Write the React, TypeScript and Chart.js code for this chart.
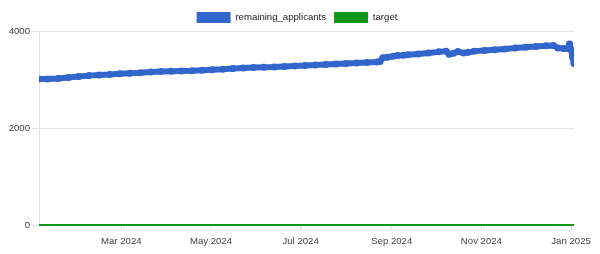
import React, { useEffect, useRef } from "react";
import { Chart, registerables } from "chart.js";

Chart.register(...registerables);

// day number counted from 2024-01-01 (= 0)
const days = [
  4, 10, 17, 24, 31, 38, 45, 52, 59, 66, 73, 80, 87, 94, 101, 108, 115, 122, 129, 136,
  143, 150, 157, 164, 171, 178, 185, 192, 199, 206, 213, 220, 227, 234, 236, 238, 241,
  245, 248, 252, 255, 262, 269, 276, 281, 283, 286, 289, 293, 296, 300, 307, 314, 321,
  328, 335, 342, 349, 354, 357, 361, 364, 365, 366, 367, 368,
];
const remainingApplicants = [
  3010, 3010, 3020, 3040, 3060, 3080, 3095, 3105, 3120, 3130, 3140, 3155, 3165, 3170,
  3175, 3180, 3190, 3200, 3210, 3225, 3235, 3245, 3255, 3260, 3270, 3280, 3290, 3300,
  3310, 3320, 3330, 3340, 3350, 3360, 3370, 3450, 3460, 3480, 3495, 3500, 3510, 3525,
  3545, 3570, 3585, 3520, 3540, 3575, 3545, 3560, 3585, 3600, 3615, 3630, 3650, 3665,
  3680, 3695, 3700, 3650, 3640, 3640, 3730, 3620, 3460, 3330,
];
const targetValue = 0;

const xTickDays = [60, 121, 182, 244, 305, 366];
const xTickLabels = ["Mar 2024", "May 2024", "Jul 2024", "Sep 2024", "Nov 2024", "Jan 2025"];
const yTicks = [0, 2000, 4000];

const BLUE = "#3366cc";
const GREEN = "#109618";
const FONT = "'Liberation Sans', Arial, sans-serif";
const FONT_SIZE = 9.6;

const legendLayout = {
  id: "legendLayout",
  beforeLayout(chart: any) {
    const lg = chart.legend;
    if (lg && !lg.__patched) {
      const orig = lg.fit;
      lg.fit = function (this: any) {
        orig.call(this);
        this.height = 27;
      };
      lg.__patched = true;
    }
  },
  afterLayout(chart: any) {
    const lg = chart.legend;
    if (lg) {
      lg.left = -3;
      lg.right = chart.width - 3;
      lg.width = chart.width;
    }
  },
};

export default function App() {
  const ref = useRef<HTMLCanvasElement>(null);
  useEffect(() => {
    document.body.style.margin = "0";
    const ctx = ref.current!;
    const chart = new Chart(ctx, {
      type: "line",
      plugins: [legendLayout],
      data: {
        datasets: [
          {
            label: "remaining_applicants",
            data: days.map((d, i) => ({ x: d, y: remainingApplicants[i] })),
            borderColor: BLUE,
            backgroundColor: BLUE,
            borderWidth: 6,
            pointRadius: 3.5,
            pointBorderWidth: 0,
            pointBackgroundColor: BLUE,
            tension: 0,
            borderCapStyle: "round",
            borderJoinStyle: "round",
          },
          {
            label: "target",
            data: [
              { x: days[0], y: targetValue },
              { x: days[days.length - 1], y: targetValue },
            ],
            borderColor: GREEN,
            backgroundColor: GREEN,
            borderWidth: 2,
            pointRadius: 0,
            clip: false,
          },
        ],
      },
      options: {
        animation: false,
        responsive: true,
        maintainAspectRatio: false,
        layout: { padding: { left: 0, right: 26, top: 4, bottom: 0 } },
        plugins: {
          tooltip: { enabled: false },
          legend: {
            position: "top",
            labels: {
              boxWidth: 34,
              boxHeight: 11,
              padding: 8,
              color: "#222",
              font: { family: FONT, size: FONT_SIZE },
              generateLabels: (c: any) =>
                Chart.defaults.plugins.legend.labels
                  .generateLabels(c)
                  .map((l: any) => ({ ...l, lineWidth: 0, strokeStyle: "rgba(0,0,0,0)" })),
            },
          },
        },
        scales: {
          x: {
            type: "linear",
            min: days[0],
            max: days[days.length - 1],
            afterBuildTicks: (axis: any) => {
              axis.ticks = xTickDays.map((v) => ({ value: v }));
            },
            afterFit: (s: any) => {
              s.height = 29;
            },
            ticks: {
              autoSkip: false,
              maxRotation: 0,
              color: "#444",
              font: { family: FONT, size: FONT_SIZE },
              padding: 6,
              callback: (v: any) => {
                const i = xTickDays.indexOf(Number(v));
                return i >= 0 ? xTickLabels[i] : "";
              },
            },
            grid: {
              drawOnChartArea: false,
              drawTicks: true,
              tickLength: 5,
              color: "#dddddd",
            },
            border: { display: false },
          },
          y: {
            min: 0,
            max: 4000,
            afterBuildTicks: (axis: any) => {
              axis.ticks = yTicks.map((v) => ({ value: v }));
            },
            afterFit: (s: any) => {
              s.width = 39;
            },
            ticks: {
              color: "#444",
              font: { family: FONT, size: FONT_SIZE },
              padding: 2,
              callback: (v: any) => String(v),
            },
            grid: {
              color: "#e3e3e3",
              tickLength: 7,
            },
            border: { display: true, color: "#e3e3e3" },
          },
        },
      },
    });
    return () => chart.destroy();
  }, []);
  return (
    <div style={{ position: "relative", width: 600, height: 254 }}>
      <canvas ref={ref} />
    </div>
  );
}
